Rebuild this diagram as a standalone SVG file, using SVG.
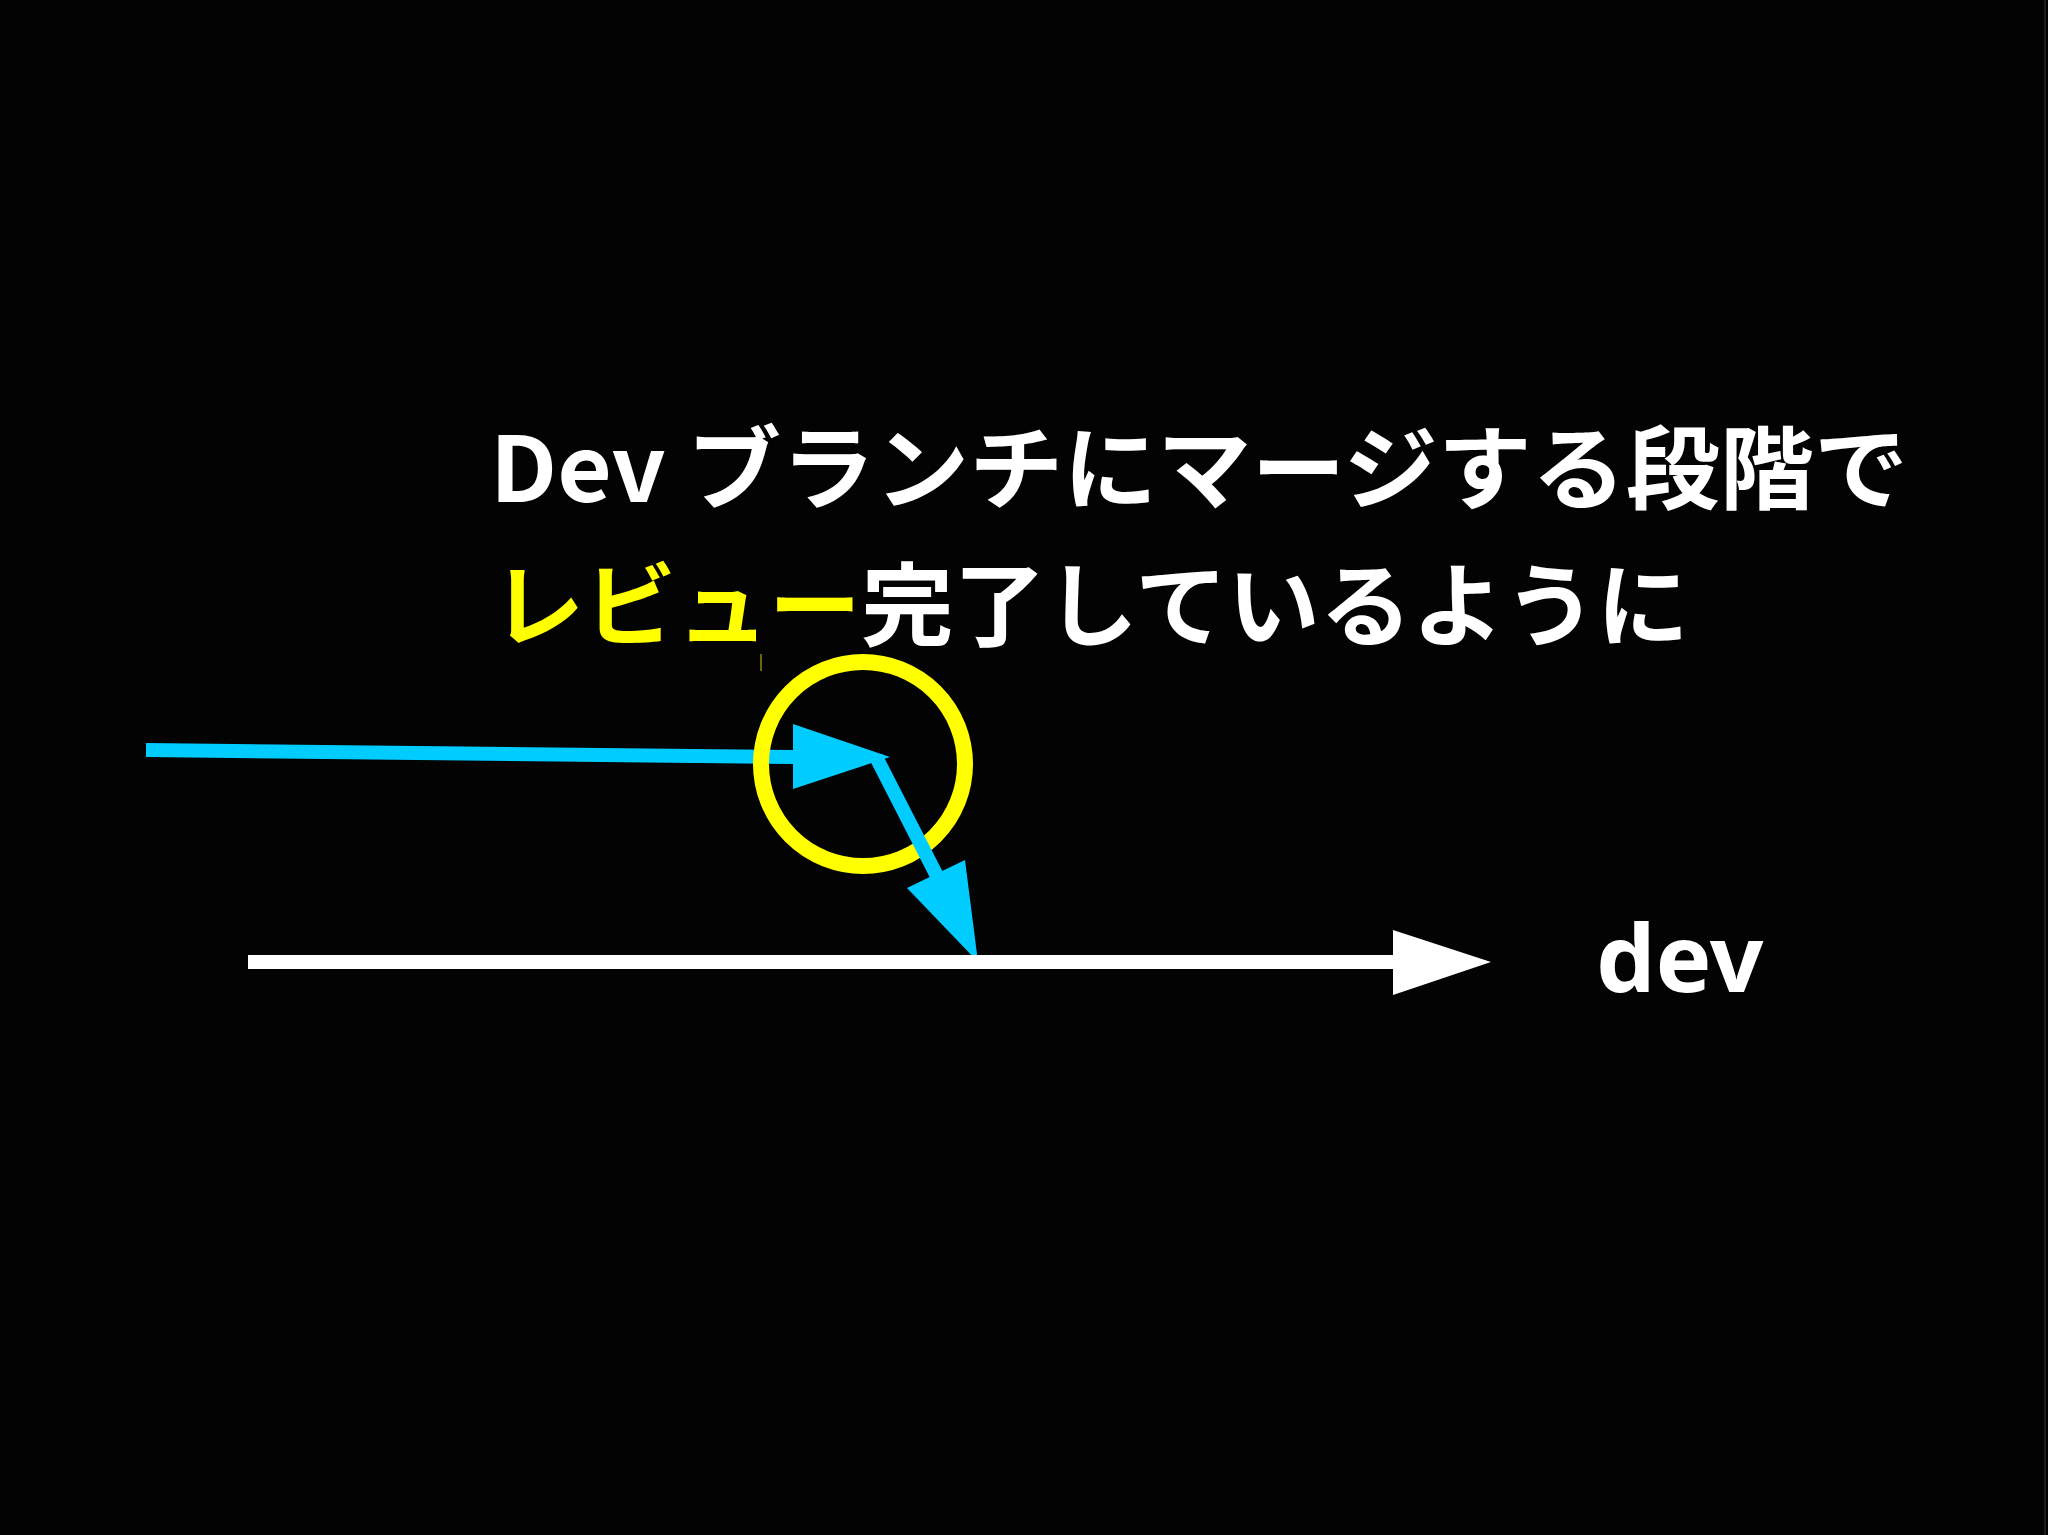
<svg xmlns="http://www.w3.org/2000/svg" width="2048" height="1535" viewBox="0 0 2048 1535">
<style>
.jp{font-family:"Noto Sans CJK JP","Noto Sans",sans-serif;font-weight:bold;font-size:91px;fill:#ffffff}
.lbl{font-family:"Noto Sans","DejaVu Sans",sans-serif;font-weight:bold;font-size:94px;fill:#ffffff}
.blue{stroke:#00ccff;stroke-width:14;fill:none}
.bluef{fill:#00ccff}
</style>
<rect x="0" y="0" width="2048" height="1535" fill="#030303"/>
<rect x="2044" y="0" width="2" height="1535" fill="#1c1c1c"/>
<g id="title">
<text class="jp" x="490" y="502" textLength="1418" lengthAdjust="spacingAndGlyphs">Dev ブランチにマージする段階で</text>
<text class="jp" x="492" y="639" textLength="1197" lengthAdjust="spacingAndGlyphs"><tspan fill="#ffff00">レビュー</tspan>完了しているように</text>
</g>
<g id="connectors">
<g id="feature-arrow">
<line class="blue" x1="146" y1="750" x2="795" y2="757"/>
<polygon class="bluef" points="793,724 890,757 793,789"/>
</g>
<g id="highlight">
<circle cx="863" cy="764" r="102" fill="none" stroke="#ffff00" stroke-width="16"/>
<line x1="761" y1="654" x2="761" y2="671" stroke="#8a8a10" stroke-width="1.5"/>
</g>
<g id="merge-arrow">
<line class="blue" x1="876" y1="757" x2="937" y2="876"/>
<polygon class="bluef" points="907,888 965,860 978,962"/>
</g>
<g id="dev-arrow">
<line x1="248" y1="962" x2="1395" y2="962" stroke="#ffffff" stroke-width="14"/>
<polygon fill="#ffffff" points="1393,930 1491,962 1393,995"/>
</g>
</g>
<g id="dev-label">
<text class="lbl" x="1596" y="992">dev</text>
</g>
</svg>
